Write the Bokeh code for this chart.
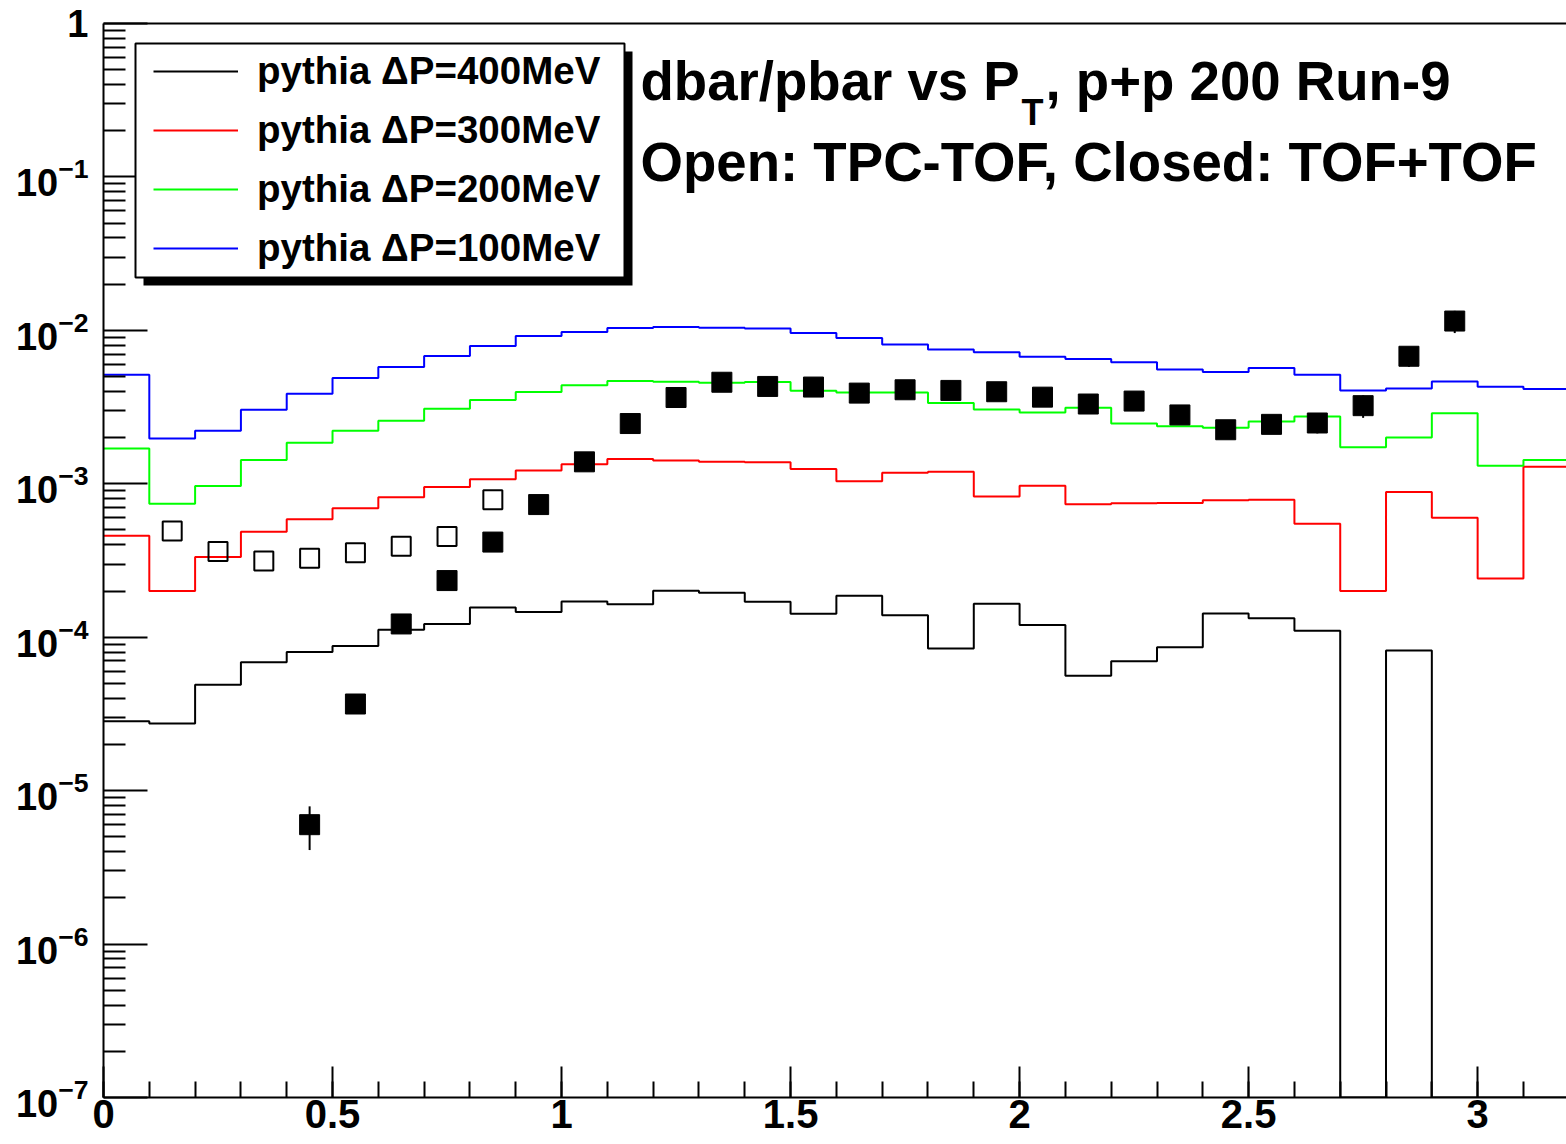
import numpy as np
from bokeh.plotting import figure
from bokeh.models import (Range1d, FixedTicker, SingleIntervalTicker, LogTickFormatter,
                          NumeralTickFormatter, LinearAxis, Legend, LegendItem, Label,
                          BoxAnnotation)
from bokeh.embed import file_html
from bokeh.resources import INLINE

# pT binning of the simulated ratios (GeV/c)
bin_edges = [round(0.1 * i, 1) for i in range(33)]

# PYTHIA dbar/pbar ratio per pT bin for four coalescence momentum cuts
pythia_400 = [2.83e-5, 2.74e-5, 4.9e-5, 6.87e-5, 8.0e-5, 8.77e-5, 1.12e-4, 1.22e-4,
              1.56e-4, 1.46e-4, 1.71e-4, 1.64e-4, 2.01e-4, 1.95e-4, 1.70e-4, 1.42e-4,
              1.86e-4, 1.39e-4, 8.43e-5, 1.65e-4, 1.20e-4, 5.6e-5, 6.98e-5, 8.6e-5,
              1.43e-4, 1.33e-4, 1.10e-4, 0.0, 8.18e-5, 0.0, 0.0, 0.0]
pythia_300 = [4.58e-4, 2.0e-4, 3.33e-4, 4.86e-4, 5.88e-4, 6.93e-4, 8.17e-4, 9.52e-4,
              1.07e-3, 1.22e-3, 1.34e-3, 1.45e-3, 1.42e-3, 1.39e-3, 1.38e-3, 1.25e-3,
              1.04e-3, 1.18e-3, 1.20e-3, 8.25e-4, 9.72e-4, 7.35e-4, 7.46e-4, 7.5e-4,
              7.8e-4, 7.88e-4, 5.48e-4, 2.0e-4, 8.84e-4, 6.0e-4, 2.41e-4, 1.29e-3]
pythia_200 = [1.70e-3, 7.4e-4, 9.67e-4, 1.43e-3, 1.85e-3, 2.22e-3, 2.58e-3, 3.08e-3,
              3.51e-3, 3.96e-3, 4.39e-3, 4.67e-3, 4.62e-3, 4.55e-3, 4.6e-3, 4.04e-3,
              3.94e-3, 3.94e-3, 3.36e-3, 3.05e-3, 2.92e-3, 3.13e-3, 2.47e-3, 2.37e-3,
              2.32e-3, 2.55e-3, 2.74e-3, 1.73e-3, 2.0e-3, 2.88e-3, 1.31e-3, 1.43e-3]
pythia_100 = [5.13e-3, 1.97e-3, 2.22e-3, 3.04e-3, 3.86e-3, 4.90e-3, 5.78e-3, 6.81e-3,
              7.9e-3, 9.2e-3, 9.75e-3, 1.035e-2, 1.05e-2, 1.04e-2, 1.03e-2, 9.6e-3,
              8.9e-3, 8.1e-3, 7.5e-3, 7.2e-3, 6.74e-3, 6.5e-3, 6.2e-3, 5.55e-3,
              5.36e-3, 5.69e-3, 5.13e-3, 4.06e-3, 4.18e-3, 4.64e-3, 4.29e-3, 4.14e-3]

# Measured ratio, TPC-TOF identification (open squares)
pt_tpc_tof = [0.15, 0.25, 0.35, 0.45, 0.55, 0.65, 0.75, 0.85]
ratio_tpc_tof = [4.93e-4, 3.62e-4, 3.14e-4, 3.27e-4, 3.55e-4, 3.92e-4, 4.54e-4, 7.88e-4]

# Measured ratio, TOF+TOF identification (closed squares)
pt_tof_tof = [0.45, 0.55, 0.65, 0.75, 0.85, 0.95, 1.05, 1.15, 1.25, 1.35, 1.45, 1.55, 1.65,
              1.75, 1.85, 1.95, 2.05, 2.15, 2.25, 2.35, 2.45, 2.55, 2.65, 2.75, 2.85, 2.95]
ratio_tof_tof = [6.0e-6, 3.67e-5, 1.22e-4, 2.34e-4, 4.17e-4, 7.32e-4, 1.39e-3, 2.47e-3,
                 3.65e-3, 4.59e-3, 4.31e-3, 4.27e-3, 3.90e-3, 4.10e-3, 4.06e-3, 3.98e-3,
                 3.67e-3, 3.31e-3, 3.46e-3, 2.81e-3, 2.25e-3, 2.44e-3, 2.49e-3, 3.23e-3,
                 6.78e-3, 1.15e-2]
err_tof_tof = [1.9e-6, 4e-6, 8e-6, 1.2e-5, 2e-5, 3e-5, 5e-5, 8e-5, 1.1e-4, 1.4e-4, 1.4e-4,
               1.5e-4, 1.5e-4, 1.7e-4, 1.9e-4, 2.1e-4, 2.2e-4, 2.3e-4, 2.7e-4, 2.6e-4,
               2.4e-4, 2.9e-4, 3.6e-4, 5.4e-4, 1.0e-3, 1.9e-3]

legend_labels = ["pythia \u0394P=400MeV", "pythia \u0394P=300MeV",
                 "pythia \u0394P=200MeV", "pythia \u0394P=100MeV"]

Y_MIN, Y_MAX = 1e-7, 1.0
X_MAX = 3.194
FONT = "Liberation Sans"

p = figure(width=1566, height=1144, x_range=Range1d(0, X_MAX), y_range=Range1d(Y_MIN, Y_MAX),
           y_axis_type="log", output_backend="svg", toolbar_location=None,
           min_border_left=103, min_border_right=0, min_border_top=23, min_border_bottom=47)
p.xgrid.visible = False
p.ygrid.visible = False
p.outline_line_color = None
p.background_fill_color = "white"
p.border_fill_color = "white"

# x axis: ticks pointing into the frame
xa = p.xaxis[0]
xa.ticker = SingleIntervalTicker(interval=0.5, num_minor_ticks=5)
xa.formatter = NumeralTickFormatter(format="0.[0]")
xa.axis_line_width = 2
xa.major_tick_in = 31
xa.major_tick_out = 0
xa.minor_tick_in = 16
xa.minor_tick_out = 0
xa.major_tick_line_width = 2
xa.minor_tick_line_width = 2
xa.major_label_standoff = 2
xa.major_label_text_font = FONT
xa.major_label_text_font_style = "bold"
xa.major_label_text_font_size = "40px"
xa.major_label_text_color = "black"

# log y axis with decade labels and 2..9 minor ticks
ya = p.yaxis[0]
ya.ticker = FixedTicker(ticks=[10.0 ** e for e in range(-7, 1)],
                        minor_ticks=[m * 10.0 ** e for e in range(-7, 0) for m in range(2, 10)])
ya.formatter = LogTickFormatter()
ya.major_label_overrides = {1: "1"}
ya.axis_line_width = 2
ya.major_tick_in = 44
ya.major_tick_out = 0
ya.minor_tick_in = 22
ya.minor_tick_out = 0
ya.major_tick_line_width = 2
ya.minor_tick_line_width = 2
ya.major_label_standoff = 15
ya.major_label_text_font = FONT
ya.major_label_text_font_style = "bold"
ya.major_label_text_font_size = "38px"
ya.major_label_text_color = "black"

# top frame edge
top = LinearAxis(ticker=FixedTicker(ticks=[]), axis_line_width=2, major_tick_in=0,
                 major_tick_out=0, minor_tick_in=0, minor_tick_out=0, major_label_standoff=0)
p.add_layout(top, "above")


def steps(vals):
    # empty bins sit on the bottom of the log frame
    y = [max(v, Y_MIN) for v in vals]
    return y + [y[-1]]


r400 = p.step(bin_edges, steps(pythia_400), mode="after", line_color="black", line_width=2)
r300 = p.step(bin_edges, steps(pythia_300), mode="after", line_color="#ff0000", line_width=2)
r200 = p.step(bin_edges, steps(pythia_200), mode="after", line_color="#00ff00", line_width=2)
r100 = p.step(bin_edges, steps(pythia_100), mode="after", line_color="#0000ff", line_width=2)

lo = [v - e for v, e in zip(ratio_tof_tof, err_tof_tof)]
hi = [v + e for v, e in zip(ratio_tof_tof, err_tof_tof)]
p.segment(x0=pt_tof_tof, y0=lo, x1=pt_tof_tof, y1=hi, line_color="black", line_width=2)
p.scatter(pt_tof_tof, ratio_tof_tof, marker="square", size=20,
          fill_color="black", line_color="black")
p.scatter(pt_tpc_tof, ratio_tpc_tof, marker="square", size=19,
          fill_color=None, line_color="black", line_width=2)

# legend frame with drop shadow
p.add_layout(BoxAnnotation(left=40, right=529, top=1046, bottom=812,
                           left_units="screen", right_units="screen",
                           top_units="screen", bottom_units="screen",
                           fill_color="black", fill_alpha=1.0, line_color=None))
p.add_layout(BoxAnnotation(left=32, right=521, top=1054, bottom=820,
                           left_units="screen", right_units="screen",
                           top_units="screen", bottom_units="screen",
                           fill_color="white", fill_alpha=1.0, line_color="black",
                           line_width=2, line_alpha=1.0))

legend = Legend(items=[LegendItem(label=legend_labels[0], renderers=[r400]),
                       LegendItem(label=legend_labels[1], renderers=[r300]),
                       LegendItem(label=legend_labels[2], renderers=[r200]),
                       LegendItem(label=legend_labels[3], renderers=[r100])],
                location=(50, 825), padding=0, margin=0, spacing=11,
                glyph_width=85, glyph_height=48, label_height=48, label_standoff=19,
                label_text_font=FONT, label_text_font_style="bold",
                label_text_font_size="38.5px", label_text_color="black",
                background_fill_alpha=0.0, border_line_color=None)
p.add_layout(legend)

text_kw = dict(x_units="screen", y_units="screen", text_font=FONT,
               text_font_style="bold", text_color="black", text_baseline="alphabetic")

# pad text
p.add_layout(Label(x=537, y=1016, text="dbar/pbar vs P", text_font_size="54.6px",
                   text_align="left", **text_kw))
p.add_layout(Label(x=918, y=985, text="T", text_font_size="36px",
                   text_align="left", **text_kw))
p.add_layout(Label(x=942, y=1016, text=", p+p 200 Run-9", text_font_size="54.6px",
                   text_align="left", **text_kw))
p.add_layout(Label(x=537, y=935, text="Open: TPC-TOF, Closed: TOF+TOF",
                   text_font_size="54.6px", text_align="left", **text_kw))

with open("out.html", "w") as f:
    f.write(file_html(p, INLINE))
